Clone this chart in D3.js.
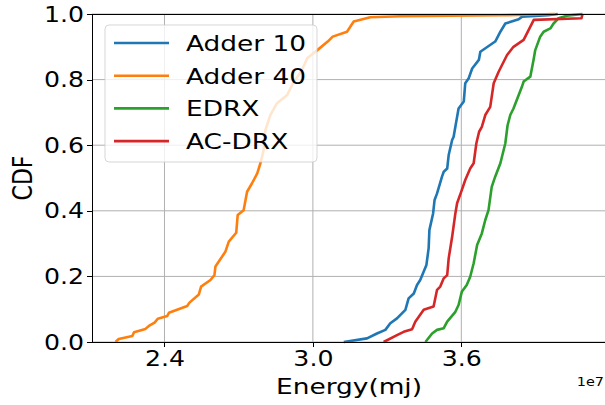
<!DOCTYPE html>
<html>
<head>
<meta charset="utf-8">
<title>Energy CDF</title>
<script src="https://d3js.org/d3.v7.min.js"></script>
<style>
body { margin: 0; background: #fff; }
svg text { font-family: "DejaVu Sans", sans-serif; fill: #000; }
.axis path, .axis line { stroke: #000; stroke-width: 1; shape-rendering: crispEdges; }
</style>
</head>
<body>
<svg width="605" height="405"></svg>
<script>
// energy values are in units of 1e7 mj
var seriesNames = ["Adder 10", "Adder 40", "EDRX", "AC-DRX"];
var seriesColors = ["#1f77b4", "#ff7f0e", "#2ca02c", "#d62728"];

var adder10X = [3.125, 3.219, 3.259, 3.293, 3.313, 3.340, 3.374, 3.387, 3.408, 3.421, 3.434, 3.459, 3.468, 3.471, 3.486, 3.492, 3.502, 3.522, 3.529, 3.543, 3.549, 3.563, 3.569, 3.576, 3.589, 3.610, 3.616, 3.630, 3.644, 3.671, 3.677, 3.737, 3.744, 3.758, 3.778, 3.832, 3.846, 3.95, 3.99];
var adder10Y = [0, 0.011, 0.026, 0.037, 0.057, 0.072, 0.098, 0.133, 0.148, 0.174, 0.189, 0.235, 0.286, 0.341, 0.392, 0.433, 0.453, 0.504, 0.519, 0.529, 0.570, 0.616, 0.626, 0.656, 0.712, 0.733, 0.789, 0.804, 0.834, 0.860, 0.885, 0.916, 0.926, 0.946, 0.971, 0.984, 0.992, 0.996, 1.0];

var adder40X = [2.202, 2.215, 2.270, 2.277, 2.323, 2.337, 2.360, 2.373, 2.411, 2.418, 2.492, 2.501, 2.539, 2.548, 2.586, 2.602, 2.606, 2.646, 2.660, 2.690, 2.696, 2.720, 2.734, 2.754, 2.775, 2.788, 2.801, 2.808, 2.828, 2.855, 2.896, 2.916, 2.956, 2.977, 3.012, 3.060, 3.080, 3.138, 3.165, 3.232, 3.354, 3.76, 3.98];
var adder40Y = [0, 0.009, 0.018, 0.030, 0.040, 0.049, 0.059, 0.071, 0.079, 0.089, 0.110, 0.120, 0.145, 0.169, 0.189, 0.204, 0.230, 0.275, 0.306, 0.333, 0.387, 0.402, 0.458, 0.484, 0.514, 0.545, 0.585, 0.646, 0.692, 0.728, 0.753, 0.784, 0.829, 0.865, 0.886, 0.916, 0.931, 0.946, 0.977, 0.990, 0.993, 0.996, 1.0];

var edrxX = [3.455, 3.482, 3.502, 3.529, 3.543, 3.576, 3.589, 3.602, 3.622, 3.636, 3.650, 3.664, 3.683, 3.697, 3.710, 3.723, 3.737, 3.758, 3.778, 3.787, 3.798, 3.811, 3.845, 3.852, 3.879, 3.892, 3.899, 3.919, 3.933, 3.960, 3.973, 3.993, 4.027, 4.09];
var edrxY = [0, 0.026, 0.037, 0.042, 0.062, 0.092, 0.113, 0.153, 0.174, 0.199, 0.240, 0.296, 0.331, 0.372, 0.402, 0.473, 0.504, 0.545, 0.606, 0.660, 0.692, 0.712, 0.778, 0.794, 0.809, 0.860, 0.890, 0.931, 0.946, 0.956, 0.971, 0.987, 0.995, 1.0];

var acdrxX = [3.286, 3.340, 3.367, 3.401, 3.414, 3.448, 3.488, 3.502, 3.515, 3.529, 3.543, 3.549, 3.563, 3.576, 3.583, 3.602, 3.616, 3.636, 3.650, 3.661, 3.672, 3.683, 3.697, 3.717, 3.731, 3.751, 3.785, 3.811, 3.852, 3.872, 3.893, 4.086, 4.09];
var acdrxY = [0, 0.021, 0.031, 0.039, 0.062, 0.098, 0.108, 0.159, 0.169, 0.194, 0.204, 0.255, 0.321, 0.392, 0.423, 0.463, 0.494, 0.529, 0.545, 0.606, 0.641, 0.656, 0.692, 0.717, 0.789, 0.824, 0.875, 0.900, 0.921, 0.951, 0.982, 0.987, 1.0];

var xTicks = [2.4, 3.0, 3.6];
var yTicks = [0, 0.2, 0.4, 0.6, 0.8, 1.0];

var SX = 1.2; // the picture is a bit wider than tall, text too
var plotL = 92, plotR = 606, plotT = 14, plotB = 342;

var svg = d3.select("svg");
var xs = d3.scaleLinear().domain([2.107, 4.185]).range([plotL, plotR]);
var ys = d3.scaleLinear().domain([0, 1]).range([plotB, plotT]);

// grid
svg.append("g").selectAll("line").data(xTicks).enter().append("line")
  .attr("x1", d => xs(d)).attr("x2", d => xs(d))
  .attr("y1", plotT).attr("y2", plotB)
  .attr("stroke", "#b0b0b0").attr("stroke-width", 1);
svg.append("g").selectAll("line").data(yTicks).enter().append("line")
  .attr("x1", plotL).attr("x2", plotR)
  .attr("y1", d => ys(d)).attr("y2", d => ys(d))
  .attr("stroke", "#b0b0b0").attr("stroke-width", 1);

// curves
var allX = [adder10X, adder40X, edrxX, acdrxX];
var allY = [adder10Y, adder40Y, edrxY, acdrxY];
var line = d3.line().x(d => xs(d[0])).y(d => ys(d[1]));
allX.forEach(function(xv, i) {
  var pts = xv.map((v, j) => [v, allY[i][j]]);
  svg.append("path").datum(pts)
    .attr("d", line)
    .attr("fill", "none")
    .attr("stroke", seriesColors[i])
    .attr("stroke-width", 2.6)
    .attr("stroke-linejoin", "round");
});

// top spine
svg.append("line").attr("x1", plotL).attr("x2", plotR).attr("y1", plotT + 0.5).attr("y2", plotT + 0.5)
  .attr("stroke", "#000").attr("stroke-width", 1);

var xAxis = d3.axisBottom(xs).tickValues(xTicks).tickFormat(d3.format(".1f")).tickSize(5).tickSizeOuter(0);
var yAxis = d3.axisLeft(ys).tickValues(yTicks).tickFormat(d3.format(".1f")).tickSize(5).tickSizeOuter(0);

var gx = svg.append("g").attr("class", "axis").attr("transform", "translate(0," + plotB + ")").call(xAxis);
var gy = svg.append("g").attr("class", "axis").attr("transform", "translate(" + plotL + ",0)").call(yAxis);

gx.selectAll("text").attr("font-size", 21).attr("y", 9).attr("dy", "0.71em")
  .attr("transform", "scale(" + SX + ",1)");
gy.selectAll("text").attr("font-size", 21).attr("x", -8 / SX).attr("dy", "0.34em")
  .attr("transform", "scale(" + SX + ",1)");

// axis titles
svg.append("text")
  .attr("transform", "translate(" + ((plotL + plotR) / 2) + ",394) scale(" + SX + ",1)")
  .attr("text-anchor", "middle").attr("font-size", 22).text("Energy(mj)");
svg.append("text")
  .attr("transform", "translate(32," + ((plotT + plotB) / 2) + ") scale(" + SX + ",1) rotate(-90)")
  .attr("text-anchor", "middle").attr("font-size", 22).text("CDF");
svg.append("text")
  .attr("transform", "translate(604,386) scale(" + SX + ",1)")
  .attr("text-anchor", "end").attr("font-size", 12).text("1e7");

// legend
var lg = svg.append("g");
lg.append("rect").attr("x", 105).attr("y", 25).attr("width", 212).attr("height", 137)
  .attr("rx", 4).attr("fill", "#fff").attr("fill-opacity", 0.8)
  .attr("stroke", "#cccccc").attr("stroke-opacity", 0.8);
seriesNames.forEach(function(name, i) {
  var cy = 43 + i * 32.7;
  lg.append("line").attr("x1", 114).attr("x2", 169).attr("y1", cy).attr("y2", cy)
    .attr("stroke", seriesColors[i]).attr("stroke-width", 2.6);
  lg.append("text")
    .attr("transform", "translate(186," + (cy + 8) + ") scale(" + SX + ",1)")
    .attr("font-size", 22).text(name);
});
</script>
</body>
</html>
